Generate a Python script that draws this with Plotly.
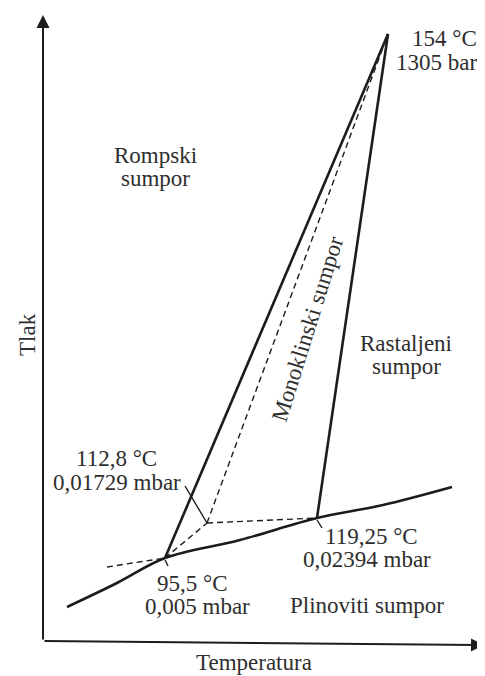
import plotly.graph_objects as go

# ---- data (arbitrary temperature / pressure units) ----
# sublimation / vaporisation curve (solid)
curve_T = [24, 74, 122, 197, 274, 340, 409]
curve_P = [34, 58, 83, 101, 123, 136, 154]

# key points
tripleA = (122, 83)    # 95,5 °C  0,005 mbar
metaM = (164, 118)     # 112,8 °C 0,01729 mbar
tripleB = (274, 123)   # 119,25 °C 0,02394 mbar
topC = (345, 607)      # 154 °C 1305 bar

# solid phase boundaries
rhomb_mono_T = [tripleA[0], topC[0]]
rhomb_mono_P = [tripleA[1], topC[1]]
mono_liq_T = [tripleB[0], topC[0]]
mono_liq_P = [tripleB[1], topC[1]]

# dashed metastable lines
dash_left_T = [64, tripleA[0]]
dash_left_P = [74, tripleA[1]]
dash_AM_T = [tripleA[0], metaM[0]]
dash_AM_P = [tripleA[1], metaM[1]]
dash_MB_T = [metaM[0], tripleB[0]]
dash_MB_P = [metaM[1], tripleB[1]]
dash_MC_T = [metaM[0], topC[0]]
dash_MC_P = [metaM[1], topC[1]]

# leader ticks
lead_M_T = [142, metaM[0]]
lead_M_P = [155, metaM[1]]
lead_B_T = [tripleB[0], 279]
lead_B_P = [121, 113]
lead_A_T = [tripleA[0], 125]
lead_A_P = [81, 75]

# axes extents (x axis in the scan droops slightly to the right)
x_axis_end = (441, -4)
y_axis_end = (0, 626)

# text labels
labels_text = ["154 °C", "1305 bar", "Rompski", "sumpor", "Rastaljeni", "sumpor",
               "Monoklinski sumpor", "112,8 °C", "0,01729 mbar", "119,25 °C",
               "0,02394 mbar", "95,5 °C", "0,005 mbar", "Plinoviti sumpor"]
labels_T = [436, 436, 112, 112, 363, 363, 264, 73, 74, 328, 324, 149, 154, 324]
labels_P = [603, 579, 486, 463, 298, 275, 312, 183, 159, 105, 82, 58, 35, 36]
labels_anchor = ["right", "right", "center", "center", "center", "center",
                 "center", "center", "center", "center", "center", "center",
                 "center", "center"]
labels_angle = [0, 0, 0, 0, 0, 0, -72.6, 0, 0, 0, 0, 0, 0, 0]

x_title = "Temperatura"
y_title = "Tlak"

LINE = "#1c1c1c"
TEXT = "#2e2e2e"
FONT = "Liberation Serif, Times New Roman, serif"
FS = 23

fig = go.Figure()

def add_line(T, P, width, dash="solid", shape="linear"):
    fig.add_trace(go.Scatter(x=T, y=P, mode="lines",
                             line=dict(color=LINE, width=width, dash=dash, shape=shape),
                             hoverinfo="skip", showlegend=False))

add_line(curve_T, curve_P, 2.6, shape="spline")
add_line(rhomb_mono_T, rhomb_mono_P, 2.6)
add_line(mono_liq_T, mono_liq_P, 2.6)
for T, P in [(dash_left_T, dash_left_P), (dash_AM_T, dash_AM_P),
             (dash_MB_T, dash_MB_P), (dash_MC_T, dash_MC_P)]:
    add_line(T, P, 1.4, dash="6px,4px")
for T, P in [(lead_M_T, lead_M_P), (lead_B_T, lead_B_P), (lead_A_T, lead_A_P)]:
    add_line(T, P, 1.4)

# axes with arrowheads
for end in (x_axis_end, y_axis_end):
    fig.add_annotation(x=end[0], y=end[1], ax=0, ay=0, xref="x", yref="y",
                       axref="x", ayref="y", text="", showarrow=True,
                       arrowhead=2, arrowsize=1.3, arrowwidth=2, arrowcolor=LINE)

for txt, T, P, anc, ang in zip(labels_text, labels_T, labels_P, labels_anchor, labels_angle):
    fig.add_annotation(x=T, y=P, xref="x", yref="y", text=txt, showarrow=False,
                       xanchor=anc, yanchor="middle", textangle=ang,
                       font=dict(family=FONT, size=FS, color=TEXT))

fig.add_annotation(x=211, y=-21, xref="x", yref="y", text=x_title, showarrow=False,
                   xanchor="center", yanchor="middle",
                   font=dict(family=FONT, size=FS, color=TEXT))
fig.add_annotation(x=-16, y=306, xref="x", yref="y", text=y_title, showarrow=False,
                   xanchor="center", yanchor="middle", textangle=-90,
                   font=dict(family=FONT, size=FS, color=TEXT))

# the page body adds an 8px margin, so the figure is 477x668 and ranges are set
# so that one unit equals one pixel
fig.update_layout(
    width=477, height=668,
    margin=dict(l=0, r=0, t=0, b=0),
    paper_bgcolor="white", plot_bgcolor="white",
    xaxis=dict(range=[-35, 442], visible=False, fixedrange=True),
    yaxis=dict(range=[-35, 633], visible=False, fixedrange=True),
    showlegend=False,
)

fig.write_html("out.html")
